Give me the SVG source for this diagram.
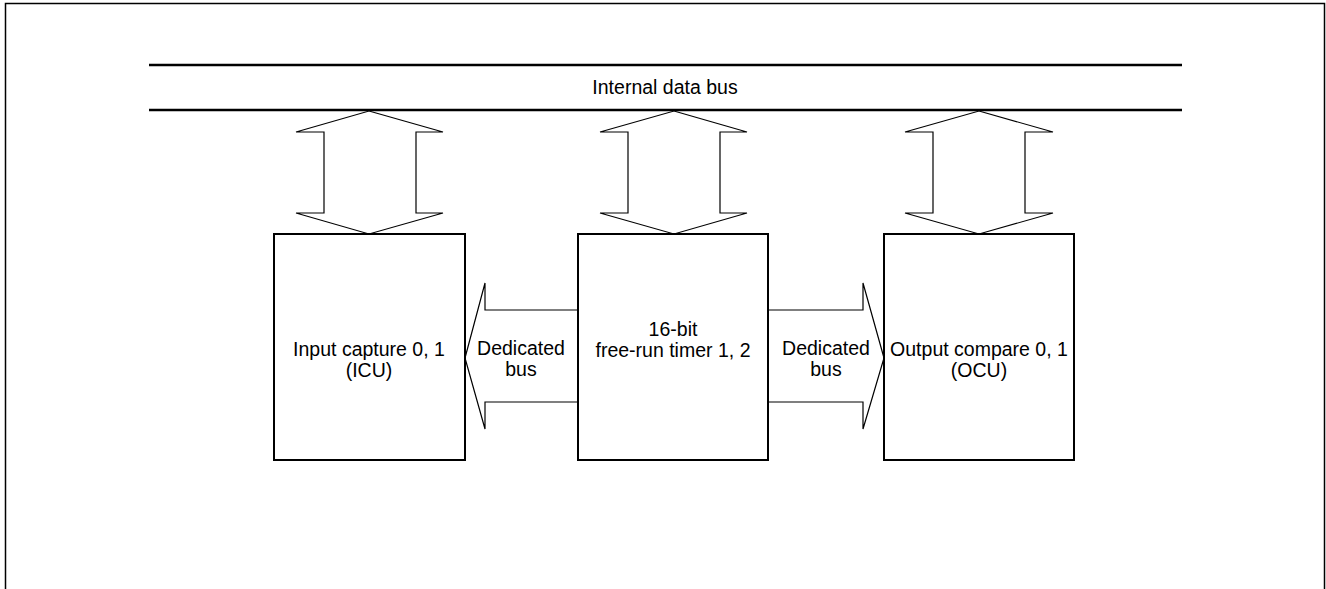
<svg xmlns="http://www.w3.org/2000/svg" width="1326" height="589" viewBox="0 0 1326 589">
<style>
.box{fill:#fff;stroke:#000;stroke-width:2}
.arr{fill:#fff;stroke:#000;stroke-width:1.2;stroke-linejoin:miter}
.bus{stroke:#000;stroke-width:2.5}
text{font-family:"Liberation Sans",Arial,sans-serif;font-size:19.5px;fill:#000;text-anchor:middle}
</style>
<rect x="0" y="0" width="1326" height="589" fill="#fff"/>
<rect x="5.5" y="3.5" width="1319" height="600" fill="none" stroke="#000" stroke-width="1.5"/>
<g id="internal-bus">
<line class="bus" x1="149" y1="65" x2="1182" y2="65"/>
<line class="bus" x1="149" y1="110" x2="1182" y2="110"/>
<text x="665" y="94">Internal data bus</text>
</g>
<g id="connectors">
<polygon class="arr" points="369,111 443,132 416,132 416,213 443,213 369,234 296,213 324,213 324,132 296,132"/>
<polygon class="arr" points="674,111 747,132 720,132 720,213 747,213 674,234 600,213 628,213 628,132 600,132"/>
<polygon class="arr" points="979,111 1053,132 1025,132 1025,213 1053,213 979,234 905,213 933,213 933,132 905,132"/>
<polygon class="arr" points="465,358 485,283 485,310 578,310 578,402 485,402 485,429"/>
<polygon class="arr" points="884,358 863,283 863,310 768,310 768,402 863,402 863,429"/>
<text x="521" y="355">Dedicated</text>
<text x="521" y="376">bus</text>
<text x="826" y="355">Dedicated</text>
<text x="826" y="376">bus</text>
</g>
<g id="icu">
<rect class="box" x="274" y="234" width="191" height="226"/>
<text x="369" y="356">Input capture 0, 1</text>
<text x="369" y="377">(ICU)</text>
</g>
<g id="frt">
<rect class="box" x="578" y="234" width="190" height="226"/>
<text x="673" y="336">16-bit</text>
<text x="673" y="357">free-run timer 1, 2</text>
</g>
<g id="ocu">
<rect class="box" x="884" y="234" width="190" height="226"/>
<text x="979" y="356">Output compare 0, 1</text>
<text x="979" y="377">(OCU)</text>
</g>
</svg>
